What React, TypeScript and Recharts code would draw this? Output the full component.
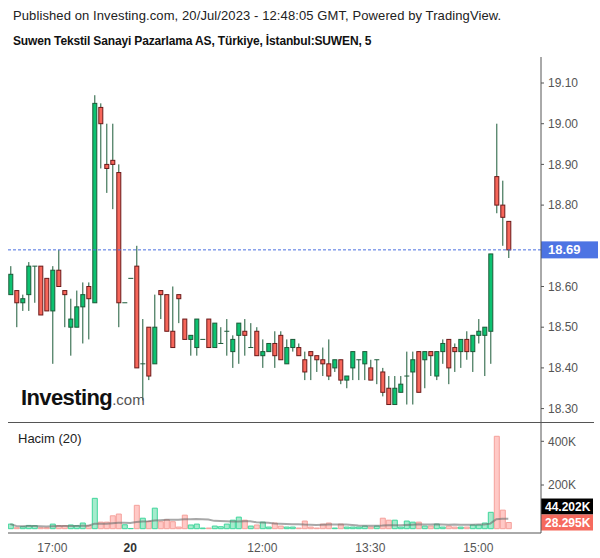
import React from 'react';
import { ComposedChart, Bar, Line, XAxis, YAxis, ReferenceLine, Cell } from 'recharts';

// 5-minute candles, SUWEN
const openPrices = [
  18.58, 18.59, 18.56, 18.58, 18.65, 18.65, 18.62, 18.54, 18.64, 18.59,
  18.50, 18.50, 18.55, 18.60, 18.56, 19.04, 18.90, 18.91, 18.88, 18.56,
  18.62, 18.65, 18.41, 18.50, 18.41, 18.59, 18.58, 18.49, 18.58, 18.52,
  18.47, 18.45, 18.47, 18.52, 18.45, 18.46, 18.49, 18.44, 18.48, 18.49,
  18.45, 18.49, 18.43, 18.44, 18.46, 18.48, 18.41, 18.45, 18.45, 18.42,
  18.44, 18.43, 18.42, 18.41, 18.40, 18.42, 18.37, 18.40, 18.42, 18.41,
  18.40, 18.42, 18.39, 18.35, 18.31, 18.34, 18.38, 18.39, 18.44, 18.42,
  18.44, 18.38, 18.44, 18.47, 18.45, 18.44, 18.47, 18.44, 18.48, 18.48,
  18.49, 18.87, 18.80, 18.76,
];
const highPrices = [
  18.65, 18.59, 18.58, 18.66, 18.65, 18.65, 18.62, 18.65, 18.69, 18.59,
  18.57, 18.59, 18.61, 18.61, 19.07, 19.05, 19.00, 19.00, 18.90, 18.56,
  18.62, 18.70, 18.52, 18.50, 18.58, 18.59, 18.58, 18.60, 18.58, 18.52,
  18.48, 18.52, 18.47, 18.52, 18.51, 18.50, 18.52, 18.48, 18.51, 18.52,
  18.51, 18.50, 18.47, 18.46, 18.49, 18.49, 18.47, 18.47, 18.46, 18.44,
  18.44, 18.43, 18.45, 18.47, 18.42, 18.42, 18.38, 18.44, 18.42, 18.44,
  18.42, 18.42, 18.40, 18.38, 18.38, 18.38, 18.44, 18.44, 18.44, 18.44,
  18.44, 18.44, 18.47, 18.47, 18.46, 18.47, 18.49, 18.48, 18.52, 18.50,
  18.68, 19.00, 18.86, 18.76,
];
const lowPrices = [
  18.58, 18.50, 18.54, 18.54, 18.56, 18.53, 18.54, 18.41, 18.60, 18.50,
  18.43, 18.50, 18.46, 18.47, 18.56, 18.89, 18.83, 18.79, 18.50, 18.56,
  18.62, 18.40, 18.32, 18.37, 18.41, 18.52, 18.49, 18.45, 18.51, 18.47,
  18.43, 18.43, 18.47, 18.45, 18.45, 18.46, 18.43, 18.40, 18.41, 18.43,
  18.45, 18.43, 18.40, 18.44, 18.40, 18.42, 18.41, 18.44, 18.43, 18.37,
  18.37, 18.39, 18.38, 18.37, 18.39, 18.36, 18.35, 18.37, 18.37, 18.37,
  18.37, 18.36, 18.33, 18.31, 18.31, 18.34, 18.31, 18.31, 18.34, 18.35,
  18.38, 18.37, 18.41, 18.36, 18.39, 18.40, 18.42, 18.39, 18.46, 18.38,
  18.41, 18.78, 18.70, 18.67,
];
const closePrices = [
  18.63, 18.56, 18.57, 18.65, 18.65, 18.53, 18.54, 18.64, 18.60, 18.58,
  18.52, 18.55, 18.58, 18.57, 19.05, 19.00, 18.89, 18.90, 18.56, 18.56,
  18.62, 18.40, 18.41, 18.38, 18.50, 18.58, 18.49, 18.45, 18.57, 18.47,
  18.48, 18.52, 18.47, 18.45, 18.51, 18.46, 18.49, 18.47, 18.51, 18.48,
  18.45, 18.43, 18.44, 18.46, 18.43, 18.42, 18.45, 18.47, 18.43, 18.39,
  18.43, 18.42, 18.41, 18.38, 18.42, 18.37, 18.38, 18.44, 18.42, 18.44,
  18.37, 18.42, 18.34, 18.31, 18.35, 18.36, 18.38, 18.42, 18.34, 18.44,
  18.43, 18.44, 18.46, 18.40, 18.44, 18.47, 18.44, 18.48, 18.49, 18.50,
  18.68, 18.80, 18.77, 18.69,
];
const volumes = [
  21000, 4500, 9000, 15000, 14000, 4500, 4500, 21000, 14000, 14000,
  17000, 14000, 26000, 14000, 139000, 30000, 30000, 59000, 67000, 18000,
  1000, 107000, 48000, 33000, 94000, 32000, 41000, 32000, 7500, 62000,
  17000, 21000, 3000, 3000, 12000, 9000, 21000, 39000, 53000, 39000,
  12000, 17000, 30000, 7500, 26000, 12000, 7500, 7500, 3000, 35000,
  7500, 3000, 21000, 26000, 3000, 21000, 7500, 7500, 7500, 12000,
  7500, 12000, 48000, 39000, 39000, 7500, 35000, 30000, 30000, 12000,
  12000, 21000, 7500, 12000, 7500, 7500, 7500, 17000, 17000, 26000,
  75000, 423000, 85000, 28295,
];

const tickIndex = [7, 20, 42, 60, 78];
const tickLabels = ['17:00', '20', '12:00', '13:30', '15:00'];
// 18.70 sits under the last-price tag, 0 under the volume tag
const priceTicks = [18.3, 18.4, 18.5, 18.6, 18.8, 18.9, 19.0, 19.1];
const volumeTicks = [200000, 400000];
const lastPrice = 18.69;
const lastVolumeMa = 44202;
const maPeriod = 20;

const data = openPrices.map((open, i) => {
  const from = Math.max(0, i - maPeriod + 1);
  const win = volumes.slice(from, i + 1);
  return {
    i,
    open,
    high: highPrices[i],
    low: lowPrices[i],
    close: closePrices[i],
    range: [lowPrices[i], highPrices[i]],
    vol: volumes[i],
    ma: win.reduce((a, b) => a + b, 0) / win.length,
  };
});

const FONT = '"Liberation Sans", Arial, sans-serif';
const xDomain = [-0.383, 88.45];

const Candle = (props: any) => {
  const { x, y, width, height, payload } = props;
  if (!payload || x == null || y == null) return null;
  const { open, close, high, low } = payload;
  const span = high - low;
  const toY = (p: number) => (span > 0 ? y + ((high - p) / span) * height : y);
  const cx = x + width / 2;
  const up = close >= open;
  const yo = toY(open);
  const yc = toY(close);
  const top = Math.min(yo, yc);
  const bot = Math.max(yo, yc);
  return (
    <g>
      <line x1={cx} x2={cx} y1={toY(high)} y2={toY(low)} stroke="#1b5a38" strokeWidth={1} />
      {bot - top < 0.5 ? (
        <line x1={x} x2={x + width} y1={top} y2={top} stroke="#1b5a38" strokeWidth={1} />
      ) : (
        <rect
          x={x + 0.5}
          y={top}
          width={width - 1}
          height={bot - top}
          fill={up ? '#0dc271' : '#f7665a'}
          stroke={up ? '#1b5a38' : '#6b1a1a'}
          strokeWidth={1}
        />
      )}
    </g>
  );
};

const PriceTag = (props: any) => {
  const { viewBox } = props;
  if (!viewBox) return null;
  const x = viewBox.x + viewBox.width;
  const y = viewBox.y;
  return (
    <g>
      <rect x={x} y={y - 8.5} width={57} height={17} fill="#4d74e3" />
      <text x={x + 7} y={y + 4.5} fill="#fff" fontSize={13} fontWeight="bold" fontFamily={FONT}>
        {lastPrice.toFixed(2)}
      </text>
    </g>
  );
};

const fmtK = (v: number) => `${(v / 1000).toFixed(3)}K`;

const VolumeTags = (props: any) => {
  const { viewBox } = props;
  if (!viewBox) return null;
  const x = viewBox.x + viewBox.width;
  const y = viewBox.y;
  return (
    <g>
      <rect x={x} y={y - 24} width={52} height={16} fill="#000" />
      <text x={x + 4} y={y - 11.5} fill="#fff" fontSize={12} fontWeight="bold" fontFamily={FONT}>
        {fmtK(lastVolumeMa)}
      </text>
      <rect x={x} y={y - 8} width={52} height={16} fill="#f66a5e" />
      <text x={x + 4} y={y + 4.5} fill="#fff" fontSize={12} fontWeight="bold" fontFamily={FONT}>
        {fmtK(volumes[volumes.length - 1])}
      </text>
    </g>
  );
};

const TimeTick = (props: any) => {
  const { x, y, payload } = props;
  const k = tickIndex.indexOf(payload.value);
  const label = tickLabels[k] ?? '';
  const bold = label === '20';
  return (
    <text
      x={x}
      y={y + 11}
      textAnchor="middle"
      fontSize={12}
      fontFamily={FONT}
      fontWeight={bold ? 'bold' : 'normal'}
      fill={bold ? '#333' : '#555'}
    >
      {label}
    </text>
  );
};

const volTick = (v: number) => (v === 0 ? '0' : `${v / 1000}K`);

export default function App() {
  return (
    <div
      style={{
        position: 'absolute',
        left: 0,
        top: 0,
        width: 600,
        height: 558,
        background: '#fff',
        fontFamily: FONT,
        overflow: 'hidden',
      }}
    >
      <div style={{ position: 'absolute', left: 13, top: 8, fontSize: 13, lineHeight: '16px', letterSpacing: 0.1, color: '#222', whiteSpace: 'nowrap' }}>
        Published on Investing.com, 20/Jul/2023 - 12:48:05 GMT, Powered by TradingView.
      </div>
      <div style={{ position: 'absolute', left: 13, top: 33, fontSize: 12, lineHeight: '16px', letterSpacing: -0.15, fontWeight: 'bold', color: '#111', whiteSpace: 'nowrap' }}>
        Suwen Tekstil Sanayi Pazarlama AS, Türkiye, İstanbul:SUWEN, 5
      </div>

      <div style={{ position: 'absolute', left: 0, top: 57 }}>
        <ComposedChart width={600} height={366} data={data} margin={{ top: 0, right: 0, bottom: 0, left: 8 }}>
          <XAxis type="number" dataKey="i" domain={xDomain} hide allowDataOverflow />
          <YAxis
            orientation="right"
            width={59}
            domain={[18.2646, 19.1639]}
            ticks={priceTicks}
            allowDataOverflow
            tickFormatter={(v: number) => v.toFixed(2)}
            tick={{ fill: '#555', fontSize: 12, fontFamily: FONT }}
            axisLine={{ stroke: '#555' }}
            tickLine={{ stroke: '#555' }}
            tickSize={3}
            tickMargin={4}
          />
          <ReferenceLine y={lastPrice} stroke="#4a6fe0" strokeDasharray="3 2" label={<PriceTag />} />
          <Bar dataKey="range" barSize={5} shape={<Candle />} isAnimationActive={false} />
        </ComposedChart>
      </div>

      <div style={{ position: 'absolute', left: 8, top: 422, width: 586, height: 1, background: '#555' }} />

      <div style={{ position: 'absolute', left: 0, top: 423 }}>
        <ComposedChart width={600} height={135} data={data} margin={{ top: 0, right: 0, bottom: 0, left: 8 }}>
          <XAxis
            type="number"
            dataKey="i"
            domain={xDomain}
            allowDataOverflow
            ticks={tickIndex}
            interval={0}
            tick={<TimeTick />}
            tickLine={false}
            axisLine={{ stroke: '#555' }}
            height={25}
          />
          <YAxis
            orientation="right"
            width={59}
            domain={[-19700, 483800]}
            ticks={volumeTicks}
            allowDataOverflow
            tickFormatter={volTick}
            tick={{ fill: '#555', fontSize: 12, fontFamily: FONT }}
            axisLine={{ stroke: '#555' }}
            tickLine={{ stroke: '#555' }}
            tickSize={3}
            tickMargin={4}
          />
          <Bar dataKey="vol" barSize={5} isAnimationActive={false}>
            {data.map((d) => (
              <Cell
                key={d.i}
                fill={d.close >= d.open ? '#a6ebcd' : '#ffc9c6'}
                stroke={d.close >= d.open ? '#3fd69c' : '#f5a19b'}
                strokeWidth={1}
              />
            ))}
          </Bar>
          <Line
            dataKey="ma"
            type="linear"
            stroke="rgba(110,110,110,0.6)"
            strokeWidth={2}
            dot={false}
            isAnimationActive={false}
          />
          <ReferenceLine y={volumes[volumes.length - 1]} stroke="none" label={<VolumeTags />} />
        </ComposedChart>
      </div>

      <div style={{ position: 'absolute', left: 18, top: 431, fontSize: 13, lineHeight: '16px', color: '#222' }}>
        Hacim (20)
      </div>

      <div style={{ position: 'absolute', left: 21, top: 385, whiteSpace: 'nowrap', lineHeight: '26px' }}>
        <span style={{ fontSize: 22, fontWeight: 900, color: '#111', letterSpacing: -0.6 }}>Investing</span>
        <span style={{ fontSize: 15, color: '#555' }}>.com</span>
      </div>
    </div>
  );
}
